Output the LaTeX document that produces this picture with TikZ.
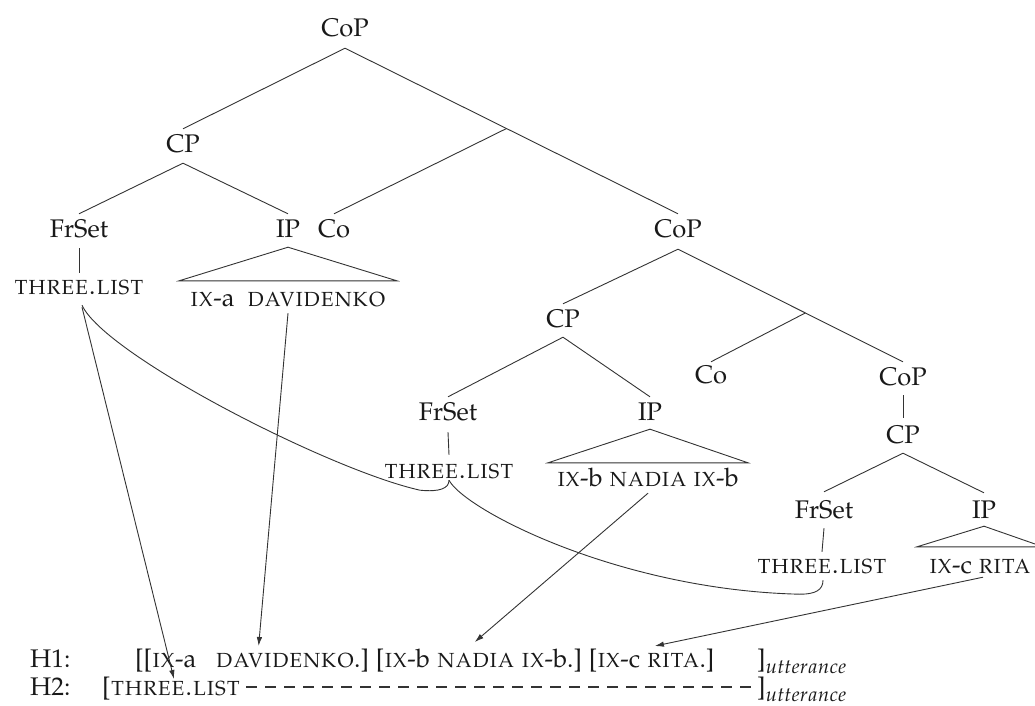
\documentclass[tikz,border=0pt]{standalone}
\usepackage[T1]{fontenc}
\usepackage{mathpazo}
\usetikzlibrary{arrows.meta}
\newcommand{\utt}{]\raisebox{-6pt}{\fontsize{20}{20}\selectfont$utterance$}}
\tikzset{
  every node/.style={inner sep=0pt, anchor=base, text depth=0pt, font=\fontsize{25.5}{30}\selectfont, text=black!90},
  cat/.style={text height=18pt},
  lex/.style={text height=14pt},
  br/.style={draw=black!80, line width=0.9pt},
  arr/.style={draw=black!80, line width=0.9pt, -{Latex[length=9pt,width=5.5pt]}},
  curve/.style={draw=black!80, line width=0.9pt},
}
\begin{document}
\begin{tikzpicture}[x=1pt,y=-1pt]
\useasboundingbox (0,0) rectangle (1035,706);
% tree labels
\node[cat] (cop1) at (345,37) {CoP};
\node[cat] (cp1) at (183,152) {CP};
\node[cat] (fs1) at (79,237) {FrSet};
\node[cat] (ip1) at (288,237) {IP};
\node[cat] (co1) at (334,237) {Co};
\node[cat] (cop2) at (678,237) {CoP};
\node[lex] (tl1) at (79,294) {\textsc{three.list}};
\node[lex,inner xsep=11pt] (ipa) at (288,306) {\textsc{ix}-a\ \ \textsc{davidenko}};
\node[cat] (cp2) at (563,327) {CP};
\node[cat] (co2) at (711,383) {Co};
\node[cat] (cop3) at (903,385) {CoP};
\node[cat] (fs2) at (448,420) {FrSet};
\node[cat] (ip2) at (650,420) {IP};
\node[cat] (cp3) at (903,443) {CP};
\node[lex] (tl2) at (449,478) {\textsc{three.list}};
\node[lex,inner xsep=9pt] (ipb) at (648,486) {\textsc{ix}-b \textsc{nadia} \textsc{ix}-b};
\node[cat] (fs3) at (824,518) {FrSet};
\node[cat] (ip3) at (984,518) {IP};
\node[lex] (tl3) at (822,573) {\textsc{three.list}};
\node[lex,inner xsep=12pt] (ipc) at (980,573) {\textsc{ix}-c \textsc{rita}};
% branches
\draw[br] ([yshift=-11pt]cop1.south) -- ([yshift=5pt]cp1.north);
\draw[br] ([yshift=-11pt]cop1.south) -- coordinate[pos=0.485] (j1) ([yshift=5pt]cop2.north);
\draw[br] (j1) -- ([yshift=5pt]co1.north);
\draw[br] ([yshift=-11pt]cp1.south) -- ([yshift=5pt]fs1.north);
\draw[br] ([yshift=-11pt]cp1.south) -- ([yshift=5pt]ip1.north);
\draw[br] ([yshift=-11pt]fs1.south) -- ([yshift=7pt]tl1.north);
\draw[br] ([yshift=-10pt]ip1.south) -- ([yshift=11pt]ipa.north west) -- ([yshift=11pt]ipa.north east) -- cycle;
\draw[br] ([yshift=-12pt]cop2.south) -- ([yshift=5pt]cp2.north);
\draw[br] ([yshift=-12pt]cop2.south) -- coordinate[pos=0.566] (j2) ([yshift=5pt]cop3.north);
\draw[br] (j2) -- ([yshift=3pt]co2.north);
\draw[br] ([yshift=-10pt]cp2.south) -- ([yshift=5pt]fs2.north);
\draw[br] ([yshift=-10pt]cp2.south) -- ([yshift=5pt]ip2.north);
\draw[br] ([yshift=-12pt]fs2.south) -- ([yshift=9pt]tl2.north);
\draw[br] ([yshift=-9pt]ip2.south) -- ([yshift=9pt]ipb.north west) -- ([yshift=9pt]ipb.north east) -- cycle;
\draw[br] ([yshift=-10pt]cop3.south) -- ([yshift=7pt]cp3.north);
\draw[br] ([yshift=-10pt]cp3.south) -- ([yshift=8pt]fs3.north);
\draw[br] ([yshift=-10pt]cp3.south) -- ([yshift=7pt]ip3.north);
\draw[br] ([yshift=-10pt]fs3.south) -- ([yshift=7pt]tl3.north);
\draw[br] ([yshift=-8pt]ip3.south) -- ([yshift=12pt]ipc.north west) -- ([yshift=12pt]ipc.north east) -- cycle;
% bottom lines
\node[cat,anchor=base west] (h1) at (30,667) {H1:};
\node[cat,anchor=base west] (h2) at (30,695) {H2:};
\node[lex,anchor=base west] (w1) at (135,667) {[[\textsc{ix}-a};
\node[lex,anchor=base west] (w2) at ([xshift=19pt]w1.base east) {\textsc{davidenko}.]};
\node[lex,anchor=base west] (w3) at ([xshift=6.5pt]w2.base east) {[\textsc{ix}-b};
\node[lex,anchor=base west] (w4) at ([xshift=6.5pt]w3.base east) {\textsc{nadia}};
\node[lex,anchor=base west] (w5) at ([xshift=6.5pt]w4.base east) {\textsc{ix}-b.]};
\node[lex,anchor=base west] (w6) at ([xshift=6.5pt]w5.base east) {[\textsc{ix}-c};
\node[lex,anchor=base west] (w7) at ([xshift=6.5pt]w6.base east) {\textsc{rita}.]};
\node[lex,anchor=base west] (u1) at (757,667) {\utt};
\node[lex,anchor=base west] (t2) at (102,695) {[\textsc{three.list}};
\node[lex,anchor=base west] (u2) at (757,695) {\utt};
\draw[draw=black!80, line width=1.1pt, dash pattern=on 11pt off 8pt] ([xshift=6pt,yshift=8pt]t2.base east) -- ([xshift=-4pt,yshift=8pt]u2.base west);
% curves
\draw[curve] ([xshift=3pt,yshift=-11pt]tl1.south) .. controls +(23,50) and +(-90,-20) .. ([xshift=-29pt,yshift=-12pt]tl2.south)
  .. controls +(20,2) and +(0,8) .. ([yshift=-2pt]tl2.south);
\draw[curve] ([yshift=-2pt]tl2.south) .. controls +(16,30) and +(-180,-4) .. ([xshift=-22pt,yshift=-21pt]tl3.south)
  .. controls +(15,0) and +(0,10) .. ([xshift=1pt,yshift=-7pt]tl3.south);
% arrows
\draw[arr] ([xshift=3pt,yshift=-13pt]tl1.south) -- ([xshift=72pt,yshift=16pt]t2.base west);
\draw[arr] ([yshift=-7pt]ipa.south) -- ([xshift=43pt,yshift=21pt]w2.base west);
\draw[arr] ([yshift=-7pt]ipb.south) -- ([xshift=38pt,yshift=25pt]w4.base west);
\draw[arr] ([xshift=3pt,yshift=-4pt]ipc.south) -- ([xshift=8pt,yshift=21pt]w7.base west);
\end{tikzpicture}
\end{document}
